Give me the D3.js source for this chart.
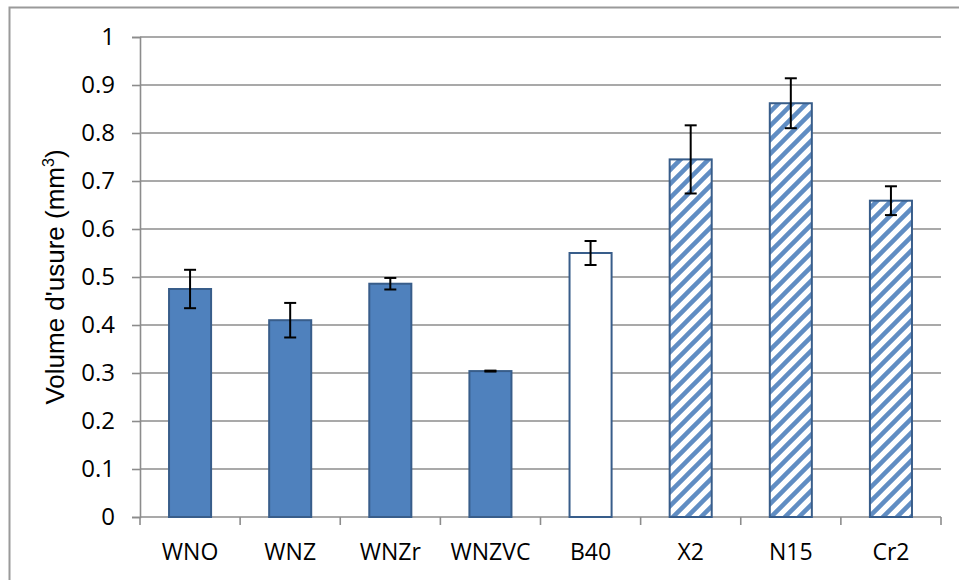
<!DOCTYPE html>
<html><head><meta charset="utf-8">
<script src="https://cdn.jsdelivr.net/npm/d3@7"></script>
<style>body{margin:0;background:#fff;}svg{display:block;}</style>
</head><body>
<svg id="c" width="959" height="580"></svg>
<script>
const categories = ["WNO","WNZ","WNZr","WNZVC","B40","X2","N15","Cr2"];
const values = [0.475,0.41,0.486,0.304,0.55,0.745,0.862,0.659];
const errors = [0.04,0.036,0.012,0.001,0.025,0.071,0.052,0.03];
const styles = ["solid","solid","solid","solid","empty","hatch","hatch","hatch"];
const yTicks = [0,0.1,0.2,0.3,0.4,0.5,0.6,0.7,0.8,0.9,1];
const yTickLabels = ["0","0.1","0.2","0.3","0.4","0.5","0.6","0.7","0.8","0.9","1"];

const svg = d3.select("#c");
const m = {left:140, right:941, top:37, bottom:517};
const x = d3.scaleBand().domain(categories).range([m.left, m.right]).paddingInner(0.58).paddingOuter(0.29);
const y = d3.scaleLinear().domain([0,1]).range([m.bottom, m.top]);
const tickFont = "'Open Sans', Lato, sans-serif";

// outer border
svg.append("rect").attr("x",9.5).attr("y",7.5).attr("width",980).attr("height",600)
  .attr("fill","none").attr("stroke","#9a9a9a").attr("stroke-width",2);

// hatch pattern
const defs = svg.append("defs");
const pat = defs.append("pattern").attr("id","hatch").attr("patternUnits","userSpaceOnUse")
  .attr("width",14).attr("height",14);
pat.append("rect").attr("width",14).attr("height",14).attr("fill","#fff");
pat.append("path").attr("d","M-3.5,3.5 L3.5,-3.5 M0,14 L14,0 M10.5,17.5 L17.5,10.5")
  .attr("stroke","#4f81bd").attr("stroke-width",4.5).attr("stroke-opacity",0.9);

// gridlines
svg.append("g").selectAll("line").data(yTicks.filter(d=>d>0)).join("line")
  .attr("x1",m.left).attr("x2",m.right).attr("y1",d=>y(d)).attr("y2",d=>y(d))
  .attr("stroke","#8c8c8c").attr("stroke-width",1.6);

// y axis
const yAxis = d3.axisLeft(y).tickValues(yTicks).tickFormat((d,i)=>yTickLabels[i]).tickSizeOuter(0).tickSize(8).tickPadding(17);
const gy = svg.append("g").attr("transform",`translate(${m.left},0)`).call(yAxis);
gy.select(".domain").attr("stroke","#8c8c8c").attr("stroke-width",1.6);
gy.selectAll(".tick line").attr("stroke","#8c8c8c").attr("stroke-width",1.6);
gy.selectAll("text").attr("font-family",tickFont).attr("font-size",24).attr("fill","#000");

// x axis
svg.append("line").attr("x1",m.left).attr("x2",m.right).attr("y1",y(0)).attr("y2",y(0))
  .attr("stroke","#8c8c8c").attr("stroke-width",1.6);
const bounds = d3.range(categories.length+1).map(i => m.left + i*(m.right-m.left)/categories.length);
svg.append("g").selectAll("line").data(bounds).join("line")
  .attr("x1",d=>d).attr("x2",d=>d).attr("y1",y(0)).attr("y2",y(0)+8)
  .attr("stroke","#8c8c8c").attr("stroke-width",1.6);
svg.append("g").selectAll("text").data(categories).join("text")
  .attr("x",d=>x(d)+x.bandwidth()/2).attr("y",560)
  .attr("text-anchor","middle").attr("font-family",tickFont).attr("font-size",23)
  .attr("fill","#000").text(d=>d);

// bars
svg.append("g").selectAll("rect").data(categories).join("rect")
  .attr("x",d=>x(d)).attr("width",x.bandwidth())
  .attr("y",(d,i)=>y(values[i])).attr("height",(d,i)=>y(0)-y(values[i]))
  .attr("fill",(d,i)=>styles[i]==="solid"?"#4f81bd":styles[i]==="hatch"?"url(#hatch)":"#fff")
  .attr("stroke","#385d8a").attr("stroke-width",2);

// error bars
const eb = svg.append("g").attr("stroke","#000").attr("stroke-width",2);
categories.forEach((c,i)=>{
  const cx = x(c)+x.bandwidth()/2;
  const y1 = y(values[i]+errors[i]), y2 = y(values[i]-errors[i]);
  eb.append("line").attr("x1",cx).attr("x2",cx).attr("y1",y1).attr("y2",y2);
  eb.append("line").attr("x1",cx-6).attr("x2",cx+6).attr("y1",y1).attr("y2",y1);
  eb.append("line").attr("x1",cx-6).attr("x2",cx+6).attr("y1",y2).attr("y2",y2);
});

// y label
const lab = svg.append("text").attr("transform",`translate(64,${(m.top+m.bottom)/2}) rotate(-90)`)
  .attr("text-anchor","middle").attr("font-family","'Liberation Sans', Arial, sans-serif").attr("font-size",26).attr("fill","#000");
lab.append("tspan").text("Volume d'usure (mm");
lab.append("tspan").attr("font-size",16).attr("dy",-10).text("3");
lab.append("tspan").attr("dy",10).text(")");
</script>
</body></html>
